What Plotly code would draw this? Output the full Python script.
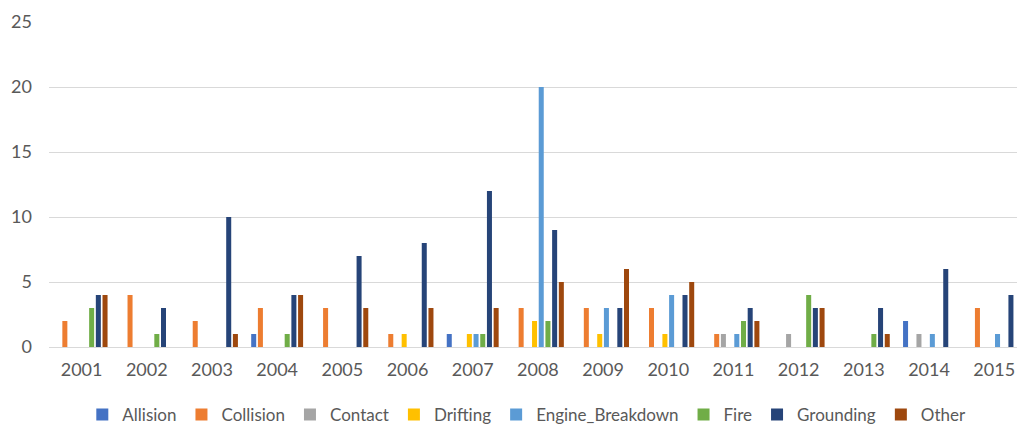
import plotly.graph_objects as go

# Incident counts per year, by incident type
years = ["2001", "2002", "2003", "2004", "2005", "2006", "2007", "2008",
         "2009", "2010", "2011", "2012", "2013", "2014", "2015"]

allision = [0, 0, 0, 1, 0, 0, 1, 0, 0, 0, 0, 0, 0, 2, 0]
collision = [2, 4, 2, 3, 3, 1, 0, 3, 3, 3, 1, 0, 0, 0, 3]
contact = [0, 0, 0, 0, 0, 0, 0, 0, 0, 0, 1, 1, 0, 1, 0]
drifting = [0, 0, 0, 0, 0, 1, 1, 2, 1, 1, 0, 0, 0, 0, 0]
engine_breakdown = [0, 0, 0, 0, 0, 0, 1, 20, 3, 4, 1, 0, 0, 1, 1]
fire = [3, 1, 0, 1, 0, 0, 1, 2, 0, 0, 2, 4, 1, 0, 0]
grounding = [4, 3, 10, 4, 7, 8, 12, 9, 3, 4, 3, 3, 3, 6, 4]
other = [4, 0, 1, 4, 3, 3, 3, 5, 6, 5, 2, 3, 1, 0, 0]

series = [
    ("Allision", allision, "#4472C4"),
    ("Collision", collision, "#ED7D31"),
    ("Contact", contact, "#A5A5A5"),
    ("Drifting", drifting, "#FFC000"),
    ("Engine_Breakdown", engine_breakdown, "#5B9BD5"),
    ("Fire", fire, "#70AD47"),
    ("Grounding", grounding, "#264478"),
    ("Other", other, "#9E480E"),
]

fig = go.Figure()
for name, values, color in series:
    fig.add_trace(go.Bar(
        name=name, x=years, y=values,
        marker=dict(color=color, line=dict(width=0)),
    ))

tick_font = dict(family="Lato, Calibri, sans-serif", size=18, color="#595959")
legend_font = dict(family="Lato, Calibri, sans-serif", size=17, color="#595959")

fig.update_layout(
    width=1017, height=430,
    margin=dict(l=49, r=0, t=22, b=83, autoexpand=False),
    paper_bgcolor="white", plot_bgcolor="white",
    barmode="group", bargap=0.178, bargroupgap=0.25,
    font=tick_font,
    showlegend=True,
    legend=dict(
        orientation="h", x=0.518, xanchor="center", xref="container",
        y=0.035, yanchor="middle", yref="container",
        font=legend_font, itemwidth=30,
        traceorder="normal",
    ),
)

fig.update_xaxes(
    type="category", range=[-0.5, 14.35], automargin=False,
    showgrid=False, showline=False, zeroline=False,
    ticks="", tickfont=tick_font, ticklabelstandoff=10,
)

fig.update_yaxes(
    range=[0, 25], tickvals=[0, 5, 10, 15, 20, 25], automargin=False,
    showgrid=True, gridcolor="#D9D9D9", gridwidth=1,
    zeroline=True, zerolinecolor="#D9D9D9", zerolinewidth=1,
    showline=False, ticks="", tickfont=tick_font, ticklabelstandoff=16,
)

fig.write_html("out.html")
